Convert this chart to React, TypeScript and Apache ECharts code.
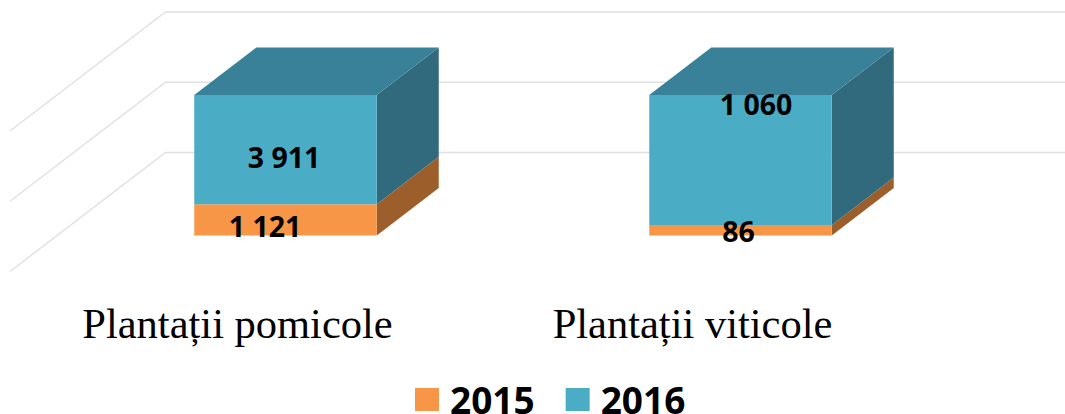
import React, { useEffect, useRef } from "react";
import * as echarts from "echarts";

const categories = ["Plantații pomicole", "Plantații viticole"];
const seriesNames = ["2015", "2016"];
const values2015 = [1121, 86];
const values2016 = [3911, 1060];
const gridTicks = [0, 50, 100];

// Manual label displacements of the original, [dx, dy] per category
const labelNudge2015 = [[-20.5, 6.5], [-2, 0.5]];
const labelNudge2016 = [[-1.5, 7], [15.5, -56]];

const FRONT_DX = 48;
const FRONT_DY = -36;
const DEPTH_DX = 62;
const DEPTH_DY = -47.5;
const WALL_DX = 155.5;
const WALL_DY = -119;
const BAR_WIDTH = 182.5;
const LABEL_FONT = '"Noto Sans", sans-serif';

const fmt = (v: number) => String(v).replace(/\B(?=(\d{3})+$)/g, " ");

function boxSeries(
  name: string,
  front: string,
  side: string,
  top: string | null,
  rows: number[][]
) {
  return {
    type: "custom",
    name,
    itemStyle: { color: front },
    encode: { x: 0, y: [1, 2] },
    data: rows,
    z: 3,
    silent: true,
    renderItem(_: any, api: any) {
      const cat = api.value(0);
      const lo = api.coord([cat, api.value(1)]);
      const hi = api.coord([cat, api.value(2)]);
      const l = lo[0] + FRONT_DX - BAR_WIDTH / 2;
      const r = l + BAR_WIDTH;
      const b = lo[1] + FRONT_DY;
      const t = hi[1] + FRONT_DY;
      const children: any[] = [
        {
          type: "polygon",
          shape: { points: [[r, b], [r + DEPTH_DX, b + DEPTH_DY], [r + DEPTH_DX, t + DEPTH_DY], [r, t]] },
          style: { fill: side },
        },
      ];
      if (top) {
        children.push({
          type: "polygon",
          shape: { points: [[l, t], [l + DEPTH_DX, t + DEPTH_DY], [r + DEPTH_DX, t + DEPTH_DY], [r, t]] },
          style: { fill: top },
        });
      }
      children.push({
        type: "rect",
        shape: { x: l, y: t, width: BAR_WIDTH, height: b - t },
        style: { fill: front },
      });
      return { type: "group", children };
    },
  };
}

function labelSeries(rows: number[][], nudges: number[][]) {
  return {
    type: "custom",
    encode: { x: 0, y: [1, 2] },
    data: rows,
    z: 5,
    silent: true,
    renderItem(params: any, api: any) {
      const cat = api.value(0);
      const lo = api.coord([cat, api.value(1)]);
      const hi = api.coord([cat, api.value(2)]);
      const n = nudges[params.dataIndex];
      return {
        type: "text",
        style: {
          x: lo[0] + FRONT_DX + n[0],
          y: (lo[1] + hi[1]) / 2 + FRONT_DY + n[1],
          text: fmt(api.value(3)),
          align: "center",
          verticalAlign: "middle",
          fill: "#000000",
          font: `bold 28.5px ${LABEL_FONT}`,
        },
      };
    },
  };
}

export default function App() {
  const ref = useRef<HTMLDivElement>(null);

  useEffect(() => {
    if (!ref.current) return;
    const chart = echarts.init(ref.current, undefined, { renderer: "svg" });
    const totals = categories.map((_, i) => values2015[i] + values2016[i]);
    const rows2015 = categories.map((_, i) => [i, 0, (values2015[i] / totals[i]) * 100, values2015[i]]);
    const rows2016 = categories.map((_, i) => [
      i,
      (values2015[i] / totals[i]) * 100,
      100,
      values2016[i],
    ]);

    chart.setOption({
      animation: false,
      backgroundColor: "#ffffff",
      grid: { left: 10, width: 910, top: 131, bottom: 142.5, containLabel: false },
      xAxis: {
        type: "category",
        data: categories,
        axisLine: { show: false },
        axisTick: { show: false },
        axisLabel: {
          margin: 30,
          fontFamily: '"Liberation Serif", serif',
          fontSize: 42.5,
          color: "#000000",
        },
      },
      yAxis: {
        type: "value",
        min: 0,
        max: 100,
        interval: 50,
        axisLine: { show: false },
        axisTick: { show: false },
        axisLabel: { show: false },
        splitLine: { show: false },
      },
      legend: {
        data: seriesNames,
        left: 415,
        top: 381,
        padding: 0,
        icon: "rect",
        itemWidth: 24,
        itemHeight: 23,
        itemGap: 31,
        selectedMode: false,
        textStyle: {
          color: "#000000",
          fontWeight: "bold",
          fontFamily: LABEL_FONT,
          fontSize: 37,
          lineHeight: 28,
          padding: [0, 0, 0, 6],
        },
      },
      series: [
        {
          type: "custom",
          data: gridTicks.map((v) => [0, v]),
          encode: { x: 0, y: 1 },
          z: 1,
          silent: true,
          renderItem(_: any, api: any) {
            const p = api.coord([0, api.value(1)]);
            const left = p[0] - api.size([1, 0])[0] / 2;
            const y = p[1];
            return {
              type: "polyline",
              shape: {
                points: [
                  [left, y],
                  [left + WALL_DX, y + WALL_DY],
                  [1065, y + WALL_DY],
                ],
              },
              style: { stroke: "#E0E0E0", lineWidth: 1.4, fill: "none" },
            };
          },
        },
        boxSeries("2015", "#F79646", "#9C5F2C", null, rows2015),
        boxSeries("2016", "#4BACC6", "#316A7C", "#398198", rows2016),
        labelSeries(rows2015, labelNudge2015),
        labelSeries(rows2016, labelNudge2016),
      ],
    });
    return () => chart.dispose();
  }, []);

  return (
    <div
      ref={ref}
      style={{ position: "absolute", left: 0, top: 0, width: 1065, height: 414 }}
    />
  );
}
